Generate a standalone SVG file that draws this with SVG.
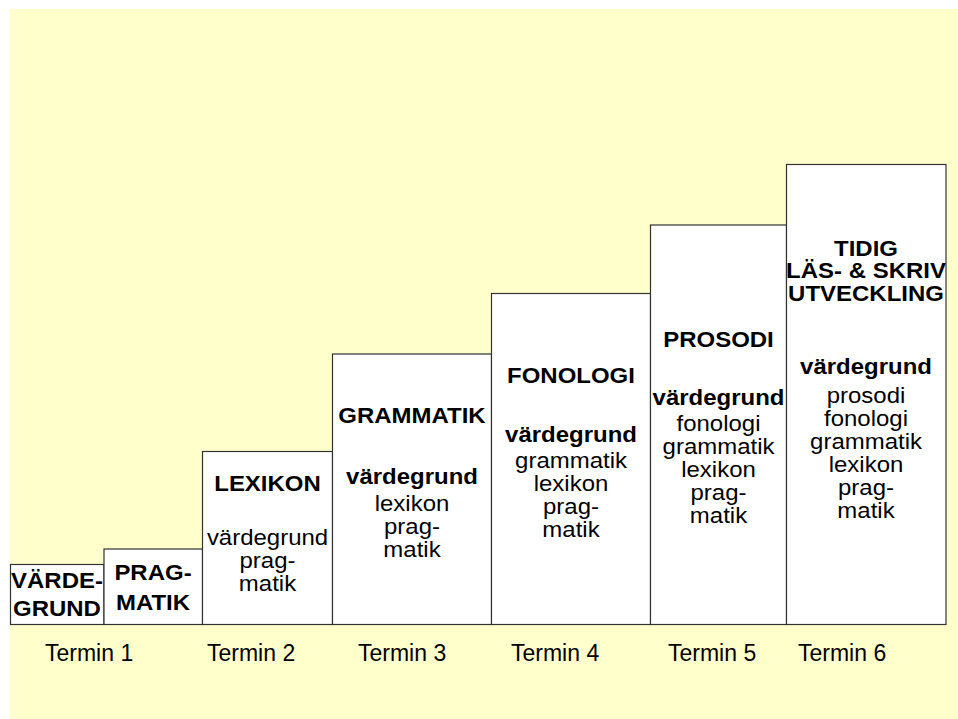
<svg xmlns="http://www.w3.org/2000/svg" width="958" height="719" viewBox="0 0 958 719">
<style>
.bg{fill:#FFFFCC}
.box{fill:#FFFFFF;stroke:#333333;stroke-width:1.2}
text{font-family:"Liberation Sans",Arial,sans-serif;fill:#000;text-anchor:middle}
.b{font-weight:bold;font-size:22px}
.r{font-size:22px}
.t{font-size:23px;text-anchor:start}
</style>
<rect class="bg" x="10" y="9" width="948" height="710"/>
<g id="connectors"/>
<g id="n1">
<rect class="box" x="10.5" y="564.5" width="93.5" height="60"/>
<g transform="translate(57,0) scale(1.09,1)">
<text class="b" x="0" y="588.5">VÄRDE-</text>
<text class="b" x="0" y="616.5">GRUND</text>
</g>
</g>
<g id="n2">
<rect class="box" x="104" y="549" width="98.5" height="75.5"/>
<g transform="translate(153,0) scale(1.09,1)">
<text class="b" x="0" y="580">PRAG-</text>
<text class="b" x="0" y="610">MATIK</text>
</g>
</g>
<g id="n3">
<rect class="box" x="202.5" y="451.5" width="130" height="173"/>
<g transform="translate(267.5,0) scale(1.09,1)">
<text class="b" x="0" y="491.5">LEXIKON</text>
<text class="r" x="0" y="545.5">värdegrund</text>
<text class="r" x="0" y="568.5">prag-</text>
<text class="r" x="0" y="591.5">matik</text>
</g>
</g>
<g id="n4">
<rect class="box" x="332.5" y="354" width="159" height="270.5"/>
<g transform="translate(412,0) scale(1.09,1)">
<text class="b" x="0" y="423">GRAMMATIK</text>
<text class="b" x="0" y="484">värdegrund</text>
<text class="r" x="0" y="511.5">lexikon</text>
<text class="r" x="0" y="534.5">prag-</text>
<text class="r" x="0" y="557.5">matik</text>
</g>
</g>
<g id="n5">
<rect class="box" x="491.5" y="293.5" width="159" height="331"/>
<g transform="translate(571,0) scale(1.09,1)">
<text class="b" x="0" y="383.5">FONOLOGI</text>
<text class="b" x="0" y="442">värdegrund</text>
<text class="r" x="0" y="468">grammatik</text>
<text class="r" x="0" y="491">lexikon</text>
<text class="r" x="0" y="514">prag-</text>
<text class="r" x="0" y="537">matik</text>
</g>
</g>
<g id="n6">
<rect class="box" x="650.5" y="225" width="136" height="399.5"/>
<g transform="translate(718.5,0) scale(1.09,1)">
<text class="b" x="0" y="347.5">PROSODI</text>
<text class="b" x="0" y="405">värdegrund</text>
<text class="r" x="0" y="431">fonologi</text>
<text class="r" x="0" y="454">grammatik</text>
<text class="r" x="0" y="477">lexikon</text>
<text class="r" x="0" y="500">prag-</text>
<text class="r" x="0" y="523">matik</text>
</g>
</g>
<g id="n7">
<rect class="box" x="786.5" y="164.5" width="159.5" height="460"/>
<g transform="translate(866,0) scale(1.09,1)">
<text class="b" x="0" y="256">TIDIG</text>
<text class="b" x="0" y="278.5">LÄS- &amp; SKRIV</text>
<text class="b" x="0" y="301">UTVECKLING</text>
<text class="b" x="0" y="374">värdegrund</text>
<text class="r" x="0" y="403.5">prosodi</text>
<text class="r" x="0" y="426.5">fonologi</text>
<text class="r" x="0" y="449.5">grammatik</text>
<text class="r" x="0" y="472.5">lexikon</text>
<text class="r" x="0" y="495.5">prag-</text>
<text class="r" x="0" y="518.5">matik</text>
</g>
</g>
<g id="labels">
<text class="t" x="45" y="661">Termin 1</text>
<text class="t" x="207" y="661">Termin 2</text>
<text class="t" x="358" y="661">Termin 3</text>
<text class="t" x="511" y="661">Termin 4</text>
<text class="t" x="668" y="661">Termin 5</text>
<text class="t" x="798" y="661">Termin 6</text>
</g>
</svg>
